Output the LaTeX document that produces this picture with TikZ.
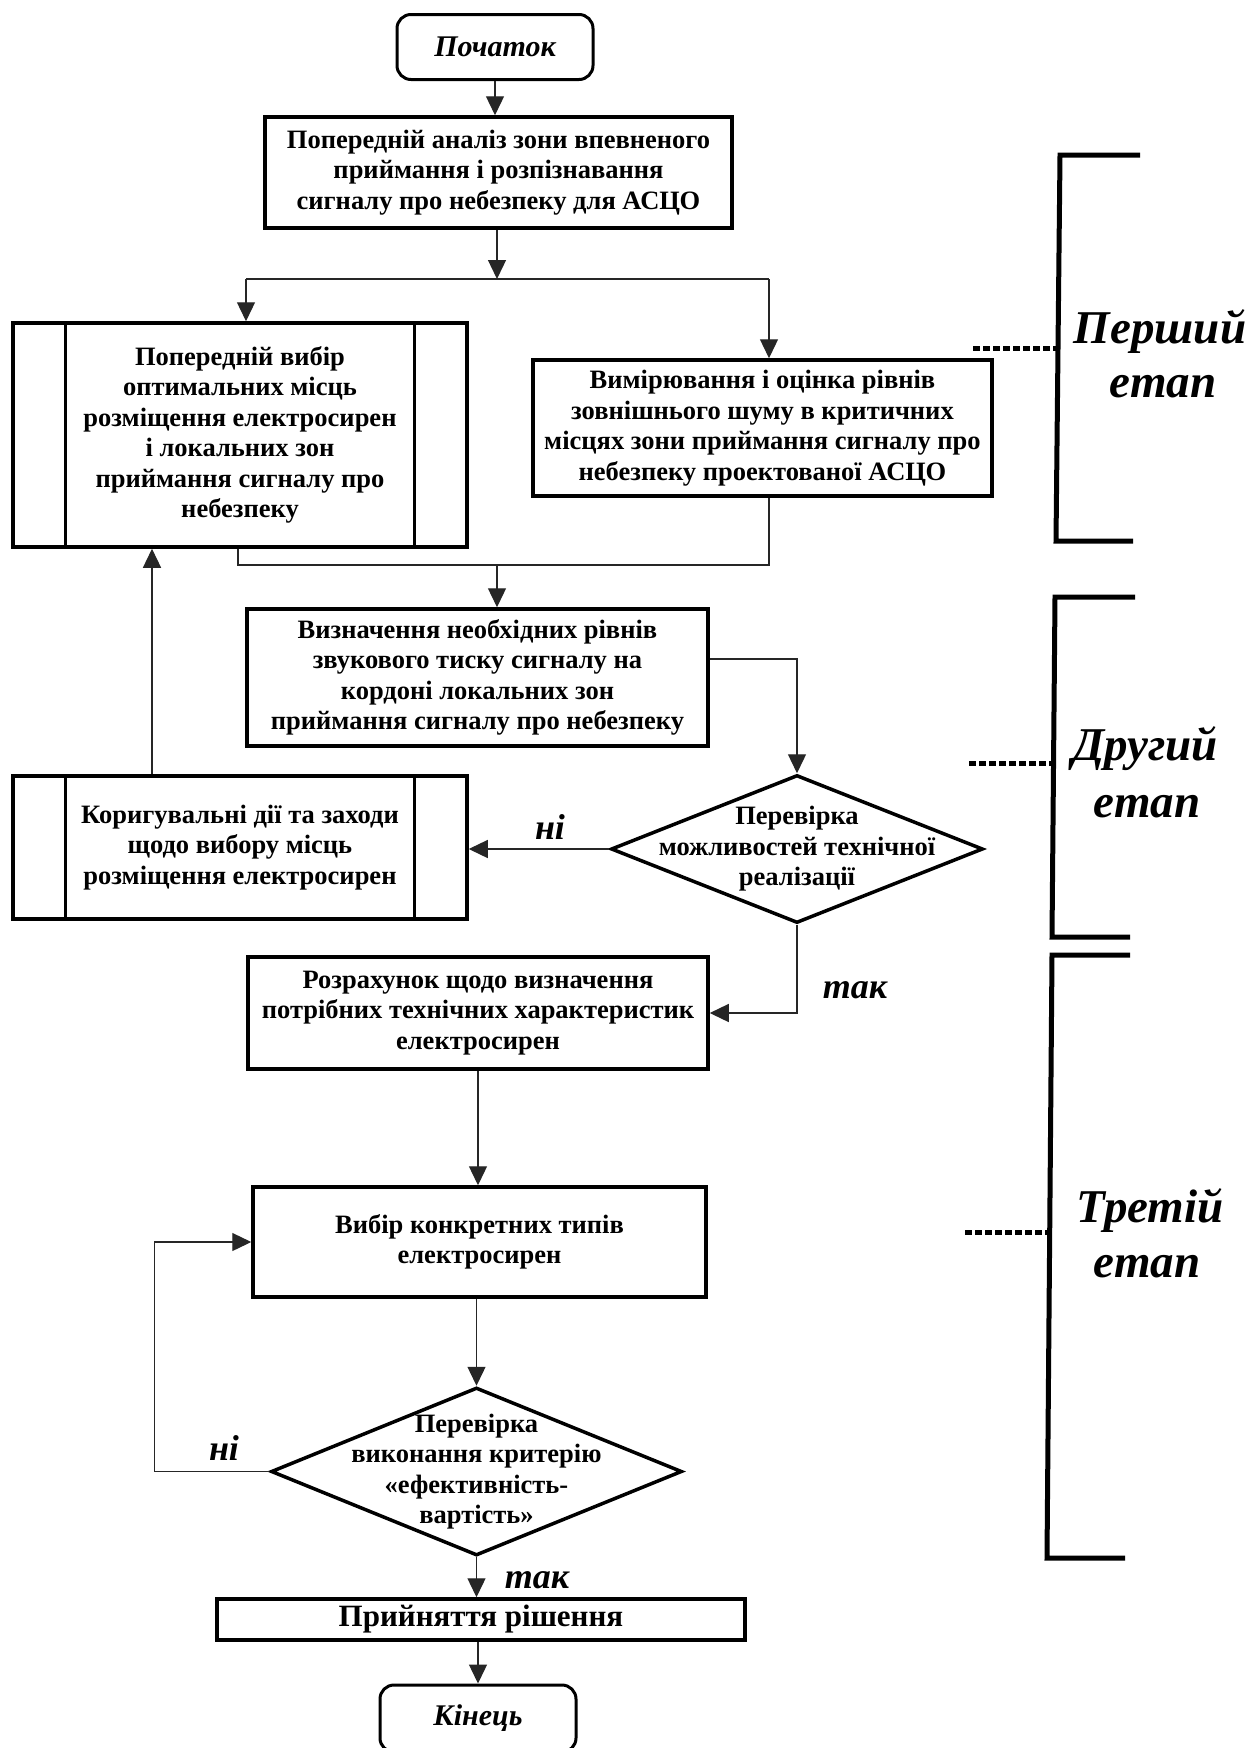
\documentclass[tikz,border=0pt]{standalone}
\usepackage{fontspec}
\setmainfont{Liberation Serif}
\usetikzlibrary{arrows.meta,shapes.geometric,calc}
\begin{document}
\begin{tikzpicture}[x=1pt,y=-1pt,
  line/.style={draw=black!85, line width=1.3pt},
  arr/.style={line, -{Triangle[length=19pt,width=18pt]}},
  boxtext/.style={font=\bfseries\fontsize{26.5}{30.5}\selectfont, align=center},
  proc/.style={draw, line width=3.5pt, boxtext, inner sep=0pt},
  term/.style={draw, line width=3pt, rounded corners=14pt, font=\bfseries\itshape\fontsize{30}{34}\selectfont, inner sep=0pt},
  dec/.style={diamond, draw, line width=3.5pt, inner sep=0pt},
  dectext/.style={boxtext, inner sep=0pt},
  lbl/.style={font=\bfseries\itshape\fontsize{36}{40}\selectfont, inner sep=0pt, anchor=base},
  stage/.style={font=\bfseries\itshape\fontsize{47}{52}\selectfont, inner sep=0pt, anchor=base},
  brk/.style={line width=5pt},
  dots/.style={line width=5pt, dash pattern=on 7pt off 3pt},
]
\useasboundingbox (0,0) rectangle (1253,1748);

% nodes
\node[term, minimum width=196pt, minimum height=65pt] (start) at (495,47) {Початок};
\node[proc, minimum width=467pt, minimum height=111pt] (a1) at (498.5,172.5)
  {Попередній аналіз зони впевненого\\приймання і розпізнавання\\сигналу про небезпеку для АСЦО};
\node[proc, minimum width=454pt, minimum height=224pt] (p1) at (240,435)
  {Попередній вибір\\оптимальних місць\\розміщення електросирен\\і локальних зон\\приймання сигналу про\\небезпеку};
\draw[line width=3pt] ([xshift=54pt]p1.north west) -- ([xshift=54pt]p1.south west);
\draw[line width=3pt] ([xshift=-54pt]p1.north east) -- ([xshift=-54pt]p1.south east);
\node[proc, minimum width=459pt, minimum height=136pt] (m1) at (762.5,428)
  {Вимірювання і оцінка рівнів\\зовнішнього шуму в критичних\\місцях зони приймання сигналу про\\небезпеку проектованої АСЦО};
\node[proc, minimum width=461pt, minimum height=137pt] (d1) at (477.5,677.5)
  {Визначення необхідних рівнів\\звукового тиску сигналу на\\кордоні локальних зон\\приймання сигналу про небезпеку};
\node[dec, minimum width=372pt, minimum height=148pt] (q1) at (797,849) {};
\node[dectext] (q1t) at (q1.center) {Перевірка\\можливостей технічної\\реалізації};
\node[proc, minimum width=454pt, minimum height=143pt] (p2) at (240,847.5)
  {Коригувальні дії та заходи\\щодо вибору місць\\розміщення електросирен};
\draw[line width=3pt] ([xshift=54pt]p2.north west) -- ([xshift=54pt]p2.south west);
\draw[line width=3pt] ([xshift=-54pt]p2.north east) -- ([xshift=-54pt]p2.south east);
\node[proc, minimum width=460pt, minimum height=112pt] (r1) at (478,1013)
  {Розрахунок щодо визначення\\потрібних технічних характеристик\\електросирен};
\node[proc, minimum width=453pt, minimum height=110pt] (v1) at (479.5,1242)
  {Вибір конкретних типів\\електросирен};
\node[dec, minimum width=411pt, minimum height=168pt] (q2) at (476.5,1471.5) {};
\node[dectext] (q2t) at (q2.center) {Перевірка\\виконання критерію\\«ефективність-\\вартість»};
\node[proc, minimum width=528pt, minimum height=41pt, font=\bfseries\fontsize{31}{34}\selectfont] (pr) at (481,1619.5) {Прийняття рішення};
\node[term, minimum width=196pt, minimum height=67pt] (end) at (478,1718.5) {Кінець};

% connectors
\draw[arr] (start.south) -- (start.south |- a1.north);
\coordinate (sM) at (497,279);
\coordinate (sL) at (246,279);
\coordinate (sR) at (769,279);
\draw[arr] (sM |- a1.south) -- (sM);
\draw[line] (sL) -- (sR);
\draw[arr] (sL) -- (sL |- p1.north);
\draw[arr] (sR) -- (sR |- m1.north);
\coordinate (jL) at (238,565);
\coordinate (jR) at (769,565);
\coordinate (jM) at (497,565);
\draw[line] (jL |- p1.south) -- (jL) -- (jR) -- (jR |- m1.south);
\draw[arr] (jM) -- (jM |- d1.north);
\draw[arr] ([yshift=18.5pt]d1.east) -| (q1.north);
\draw[arr] (q1.west) -- (q1.west -| p2.east);
\node[lbl] (ni1) at (550,839) {ні};
\draw[arr] ([xshift=-88pt]p2.north) -- ([xshift=-88pt]p1.south);
\draw[arr] (q1.south) |- (r1.east);
\node[lbl] (tak1) at (855,998) {так};
\draw[arr] (r1.south) -- (r1.south |- v1.north);
\draw[arr] (q2.north |- v1.south) -- (q2.north);
\draw[arr] (q2.west) -- ++(-115,0) |- (v1.west);
\node[lbl] (ni2) at (224,1460) {ні};
\draw[arr] (q2.south) -- (q2.south |- pr.north);
\node[lbl] (tak2) at (537,1588) {так};
\draw[arr] (end.north |- pr.south) -- (end.north);

% stage brackets
\draw[brk] (1140,155) -- (1060,155) -- (1056,541) -- (1133,541);
\draw[dots] (973,348) -- (1058,348);
\node[stage] (st1a) at (1160,343) {Перший};
\node[stage] (st1b) at (1163,397) {етап};

\draw[brk] (1135,597) -- (1055,597) -- (1052,937) -- (1130,937);
\draw[dots] (969,763) -- (1054,763);
\node[stage] (st2a) at (1145,760) {Другий};
\node[stage] (st2b) at (1147,817) {етап};

\draw[brk] (1130,955) -- (1052,955) -- (1047,1558) -- (1125,1558);
\draw[dots] (965,1232) -- (1049,1232);
\node[stage] (st3a) at (1150,1222) {Третій};
\node[stage] (st3b) at (1147,1277) {етап};
\end{tikzpicture}
\end{document}
